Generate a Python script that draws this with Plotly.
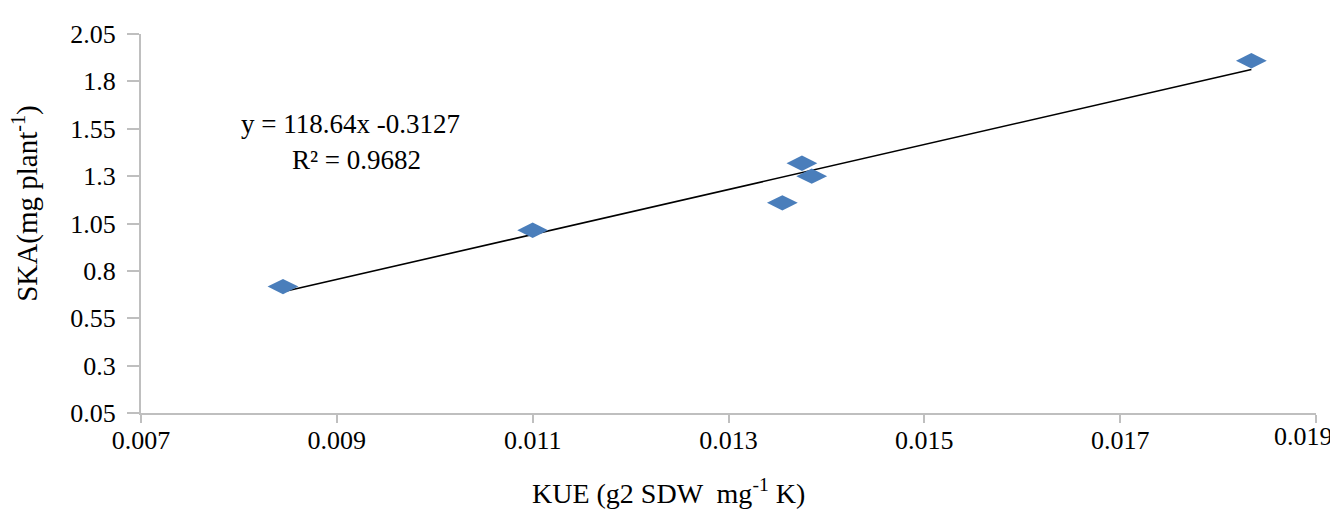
import plotly.graph_objects as go

# Data
kue = [0.00845, 0.01100, 0.01355, 0.01375, 0.01385, 0.01834]
ska = [0.717, 1.014, 1.159, 1.368, 1.300, 1.909]

slope = 118.64
intercept = -0.3127
r2 = 0.9682

x_ticks = [0.007, 0.009, 0.011, 0.013, 0.015, 0.017, 0.019]
x_ticktext = ["0.007", "0.009", "0.011", "0.013", "0.015", "0.017", "0.019"]
y_ticks = [0.05, 0.3, 0.55, 0.8, 1.05, 1.3, 1.55, 1.8, 2.05]
y_ticktext = ["0.05", "0.3", "0.55", "0.8", "1.05", "1.3", "1.55", "1.8", "2.05"]

FONT = "Liberation Serif"
AXIS_GRAY = "#bfbfbf"
TICK_SIZE = 26

# page body has an 8px margin; plot area in screen pixels:
OFF = 8
PL, PR, PT, PB = 141, 1316, 29, 413
W, H = 1338 - OFF, 510 - OFF


def px(xs):
    return (xs - PL) / (PR - PL)


def py(ys):
    return (PB - ys) / (PB - PT)


fit_x = [min(kue), max(kue)]
fit_y = [slope * v + intercept for v in fit_x]

fig = go.Figure()
fig.add_trace(go.Scatter(
    x=fit_x, y=fit_y, mode="lines",
    line=dict(color="black", width=1.6),
    showlegend=False, hoverinfo="skip",
))
fig.add_trace(go.Scatter(
    x=kue, y=ska, mode="markers",
    marker=dict(symbol="diamond-wide", size=22, color="#4a7ebb",
                line=dict(width=0)),
    showlegend=False,
))

# last x tick label is shifted left (as in the reference) so it fits the page
shown_x_text = x_ticktext[:-1] + [""]

fig.update_layout(
    width=W, height=H,
    margin=dict(l=PL - OFF, r=1338 - PR, t=PT - OFF, b=510 - PB),
    paper_bgcolor="white", plot_bgcolor="white",
    font=dict(family=FONT, color="black", size=TICK_SIZE),
    xaxis=dict(
        range=[0.007, 0.0190001], tickvals=x_ticks, ticktext=shown_x_text,
        showgrid=False, zeroline=False,
        showline=True, linecolor=AXIS_GRAY, linewidth=2,
        ticks="outside", ticklen=8, tickcolor=AXIS_GRAY, tickwidth=1.5,
        ticklabelstandoff=-5,
        tickfont=dict(family=FONT, size=TICK_SIZE, color="black"),
    ),
    yaxis=dict(
        range=[0.05, 2.0500001], tickvals=y_ticks, ticktext=y_ticktext,
        showgrid=False, zeroline=False,
        showline=True, linecolor=AXIS_GRAY, linewidth=2,
        ticks="outside", ticklen=12, tickcolor=AXIS_GRAY, tickwidth=1.5,
        ticklabelstandoff=6,
        tickfont=dict(family=FONT, size=TICK_SIZE, color="black"),
    ),
    annotations=[
        dict(text=x_ticktext[-1], xref="x", yref="paper",
             x=x_ticks[-1], y=py(437), xshift=19,
             xanchor="right", yanchor="middle", showarrow=False,
             font=dict(family=FONT, size=TICK_SIZE, color="black")),
        dict(text="KUE (g2 SDW  mg<sup>-1</sup> K)", xref="paper", yref="paper",
             x=px(668), y=py(493),
             xanchor="center", yanchor="middle", showarrow=False,
             font=dict(family=FONT, size=28, color="black")),
        dict(text="SKA(mg plant<sup>-1</sup>)", xref="paper", yref="paper",
             x=px(26), y=py(201),
             xanchor="center", yanchor="middle", textangle=-90, showarrow=False,
             font=dict(family=FONT, size=29, color="black")),
        dict(text=f"y = {slope}x {intercept}", xref="paper", yref="paper",
             x=px(350), y=py(120),
             xanchor="center", yanchor="middle", showarrow=False,
             font=dict(family=FONT, size=27, color="black")),
        dict(text=f"R² = {r2}", xref="paper", yref="paper",
             x=px(356), y=py(157),
             xanchor="center", yanchor="middle", showarrow=False,
             font=dict(family=FONT, size=27, color="black")),
    ],
)

fig.write_html("out.html")
